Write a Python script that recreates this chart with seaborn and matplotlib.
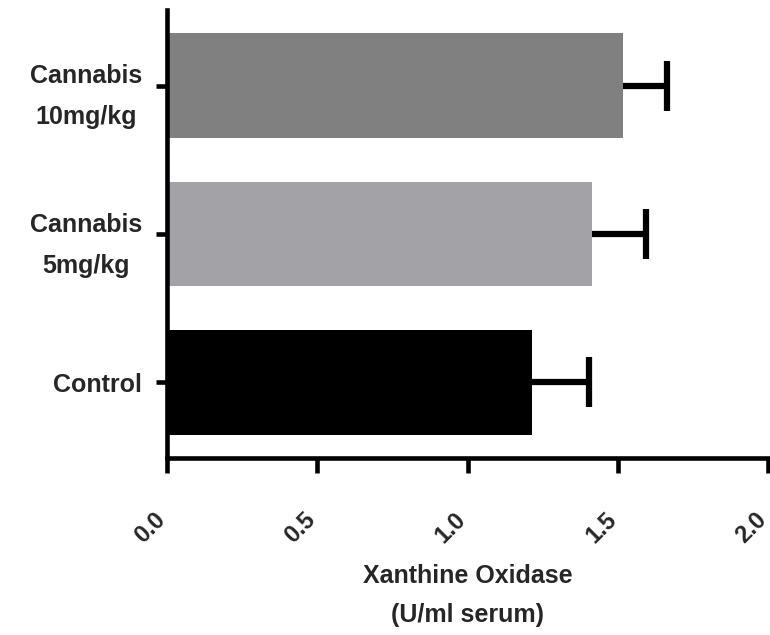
import matplotlib
matplotlib.use("Agg")
import matplotlib.pyplot as plt
import matplotlib.transforms as mtransforms
import seaborn as sns
import pandas as pd
import numpy as np

groups = ["Cannabis\n10mg/kg", "Cannabis\n5mg/kg", "Control"]
means = [1.517, 1.414, 1.215]
sems = [0.147, 0.180, 0.189]
colors = ["#808080", "#a3a2a7", "#000000"]
xticks = [0.0, 0.5, 1.0, 1.5, 2.0]
xlabel = "Xanthine Oxidase\n(U/ml serum)"

sns.set_style("white")
plt.rcParams["font.family"] = ["Liberation Sans", "DejaVu Sans"]
plt.rcParams["font.weight"] = "bold"

fig = plt.figure(figsize=(7.7, 6.35), dpi=100)
ax = fig.add_axes([167 / 770, 1 - 458 / 635, 601 / 770, 448 / 635])

df = pd.DataFrame({"group": groups, "value": means})
sns.barplot(data=df, x="value", y="group", hue="group", palette=colors,
            order=groups, hue_order=groups, legend=False, errorbar=None,
            width=0.705, saturation=1, edgecolor="none", ax=ax)

ypos = list(range(len(groups)))
eb = ax.errorbar(x=means, y=ypos, xerr=[[0] * len(sems), sems], fmt="none",
                 ecolor="black", elinewidth=4.5, capsize=18, capthick=4.5,
                 zorder=3)
# keep only the outer cap (one-sided SEM bar)
for cl in eb[1]:
    if np.allclose(cl.get_xdata(), means):
        cl.set_visible(False)

ax.set_xlim(0, 2.0)
ax.set_ylim(2.51, -0.51)
ax.set_xticks(xticks)
ax.set_xticklabels([f"{t:.1f}" for t in xticks])

for s in ["top", "right"]:
    ax.spines[s].set_visible(False)
for s in ["left", "bottom"]:
    ax.spines[s].set_linewidth(3.3)
    ax.spines[s].set_color("black")
ax.tick_params(axis="x", direction="out", length=11, width=3.3, color="black",
               bottom=True, pad=31)
ax.tick_params(axis="y", direction="out", length=8, width=3.3, color="black",
               left=True, pad=10)
ax.grid(False)

offset = mtransforms.ScaledTranslation(-5 / 100, 0, fig.dpi_scale_trans)
for lab in ax.get_xticklabels():
    lab.set_rotation(45)
    lab.set_ha("right")
    lab.set_va("center")
    lab.set_rotation_mode("anchor")
    lab.set_fontsize(17)
    lab.set_fontweight("bold")
    lab.set_transform(lab.get_transform() + offset)
for lab in ax.get_yticklabels():
    lab.set_multialignment("center")
    lab.set_fontsize(18)
    lab.set_fontweight("bold")
    lab.set_linespacing(1.9)

ax.set_ylabel("")
ax.set_xlabel(xlabel, fontsize=18, fontweight="bold", linespacing=1.75, labelpad=12)

fig.savefig("out.png", dpi=100)
